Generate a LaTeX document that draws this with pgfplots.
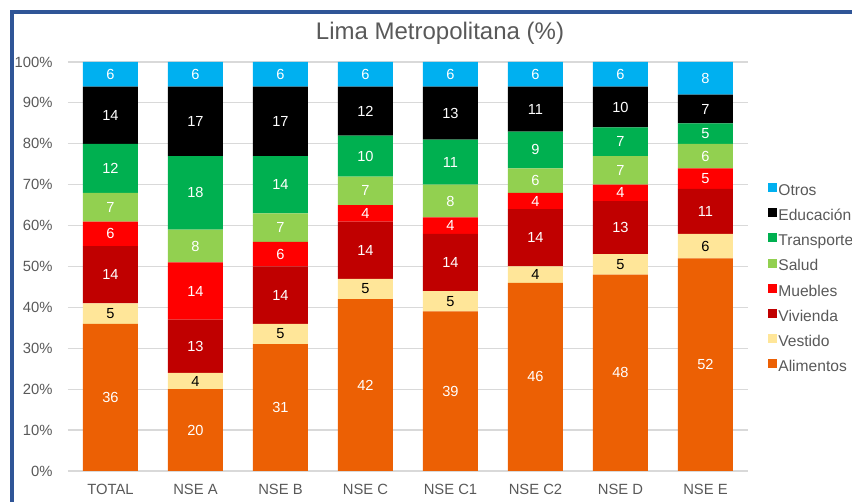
\documentclass[border=0pt]{standalone}
\usepackage{pgfplots}
\pgfplotsset{compat=1.18}
\usepackage{fontspec}
\setmainfont{Liberation Sans}

\definecolor{txt}{HTML}{595959}
\definecolor{frame}{HTML}{2F5597}
\definecolor{gridc}{HTML}{D9D9D9}
\definecolor{cOtros}{HTML}{00B0F0}
\definecolor{cEdu}{HTML}{000000}
\definecolor{cTrans}{HTML}{00B050}
\definecolor{cSalud}{HTML}{92D050}
\definecolor{cMueb}{HTML}{FF0000}
\definecolor{cViv}{HTML}{C00000}
\definecolor{cVest}{HTML}{FFE699}
\definecolor{cAlim}{HTML}{EC6004}

\begin{document}
\begin{tikzpicture}[x=0.5pt,y=0.5pt]
  \useasboundingbox (0,0) rectangle (852,502);
  \clip (0,0) rectangle (852,502);
  \draw[frame, line width=2pt] (12,-20) -- (12,490) -- (880,490);
  \node[text=txt, font=\fontsize{12}{14}\selectfont] at (440,469) {Lima Metropolitana (\%)};
  \begin{axis}[
    at={(34pt,15.5pt)}, anchor=south west, scale only axis,
    width=340pt, height=204.5pt,
    ybar stacked, bar width=27.5pt,
    every axis plot/.append style={draw=none,
      legend image code/.code={\path[##1, draw=none] (0pt,-0.4pt) rectangle (4.5pt,4.1pt);}},
    xmin=-0.5, xmax=7.5, ymin=0, ymax=100,
    xtick={0,...,7},
    xticklabels={TOTAL,NSE A,NSE B,NSE C,NSE C1,NSE C2,NSE D,NSE E},
    ytick={0,10,...,100},
    yticklabels={0\%,10\%,20\%,30\%,40\%,50\%,60\%,70\%,80\%,90\%,100\%},
    major tick length=0pt,
    axis line style={draw=none},
    ymajorgrids, grid style={gridc, line width=0.6pt},
    tick label style={text=txt, font=\fontsize{7.4}{9}\selectfont},
    yticklabel style={anchor=east, inner sep=0pt, xshift=-7.5pt},
    xticklabel style={anchor=north, inner sep=0pt, yshift=-6.5pt},
    /pgf/number format/assume math mode=true,
    point meta=rawy,
    nodes near coords,
    every node near coord/.append style={anchor=center, text=white,
      font=\fontsize{7.3}{8}\selectfont},
    reverse legend,
    legend cell align=left,
    legend style={at={(1.0294,0.705)}, anchor=north west, draw=none, fill=none,
      text=txt, font=\fontsize{7.8}{9}\selectfont, row sep=4.5pt,
      inner sep=0pt, nodes={inner sep=0.5pt, text height=5.5pt, text depth=1.5pt}},
  ]
    \addplot[fill=cAlim] coordinates {(0,36) (1,20) (2,31) (3,42) (4,39) (5,46) (6,48) (7,52)};
    \addplot[fill=cVest, every node near coord/.append style={text=black}]
      coordinates {(0,5) (1,4) (2,5) (3,5) (4,5) (5,4) (6,5) (7,6)};
    \addplot[fill=cViv] coordinates {(0,14) (1,13) (2,14) (3,14) (4,14) (5,14) (6,13) (7,11)};
    \addplot[fill=cMueb] coordinates {(0,6) (1,14) (2,6) (3,4) (4,4) (5,4) (6,4) (7,5)};
    \addplot[fill=cSalud] coordinates {(0,7) (1,8) (2,7) (3,7) (4,8) (5,6) (6,7) (7,6)};
    \addplot[fill=cTrans] coordinates {(0,12) (1,18) (2,14) (3,10) (4,11) (5,9) (6,7) (7,5)};
    \addplot[fill=cEdu] coordinates {(0,14) (1,17) (2,17) (3,12) (4,13) (5,11) (6,10) (7,7)};
    \addplot[fill=cOtros] coordinates {(0,6) (1,6) (2,6) (3,6) (4,6) (5,6) (6,6) (7,8)};
    \legend{Alimentos,Vestido,Vivienda,Muebles,Salud,Transporte,Educación,Otros}
  \end{axis}
\end{tikzpicture}
\end{document}
